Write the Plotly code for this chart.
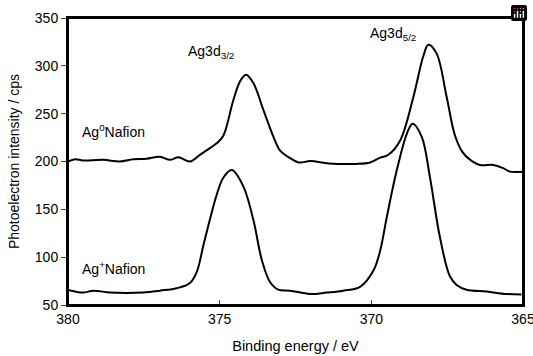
import plotly.graph_objects as go

# Ag0Nafion spectrum (binding energy eV, intensity cps)
ag0_energy = [380.0, 379.77, 379.5, 378.84, 378.29, 377.85, 377.41, 376.97, 376.64, 376.36,
              375.98, 375.65, 375.32, 375.1, 374.88, 374.55, 374.33, 374.13, 373.89, 373.56,
              373.23, 373.0, 372.7, 372.4, 372.0, 371.4, 370.5, 370.04, 369.71, 369.44,
              369.05, 368.61, 368.29, 368.12, 367.85, 367.52, 367.25, 367.0, 366.75,
              366.42, 365.98, 365.65, 365.43, 365.0]
ag0_counts = [200, 202.4, 201, 201.7, 200, 202.4, 203, 205, 201.7, 204.5,
              200, 207, 214, 219, 227, 264, 283.6, 290.6, 282, 254,
              226, 211, 204, 199, 200.5, 198, 197.5, 199, 204, 207,
              222, 268, 309.7, 322, 313, 268, 228, 210, 202,
              196.4, 196.4, 193, 189.4, 189.4]

# Ag+Nafion spectrum
agp_energy = [380.0, 379.5, 379.17, 378.62, 378.07, 377.52, 376.97, 376.42, 375.98, 375.75,
              375.54, 375.3, 375.1, 374.88, 374.6, 374.22, 373.89, 373.61, 373.34, 373.07, 372.68,
              372.02, 371.47, 370.92, 370.37, 369.93, 369.7, 369.49, 369.16, 368.83, 368.64, 368.34,
              368.07, 367.74, 367.41, 367.19, 366.86, 366.2, 365.54, 365.05]
agp_counts = [65.7, 63, 65, 63, 62.5, 63, 65, 67.5, 73, 85,
              112, 142, 165, 183, 191, 174, 139, 97, 74, 66, 65,
              61.5, 63, 65, 69, 86, 108, 142, 191, 229, 239.5, 226,
              184, 121, 80, 71, 66, 64, 61.5, 61]

x_ticks = [380, 375, 370, 365]
y_ticks = [50, 100, 150, 200, 250, 300, 350]

FONT = "Liberation Sans, Arial, sans-serif"

fig = go.Figure()
for xs, ys, name in [(ag0_energy, ag0_counts, "Ag0Nafion"), (agp_energy, agp_counts, "Ag+Nafion")]:
    fig.add_trace(go.Scatter(x=xs, y=ys, mode="lines", name=name,
                             line=dict(color="black", width=2, shape="spline", smoothing=1.0),
                             showlegend=False))

annotations = [
    dict(x=376.1, y=314, text="Ag3d<sub>3/2</sub>", xanchor="left", yanchor="middle"),
    dict(x=370.1, y=333, text="Ag3d<sub>5/2</sub>", xanchor="left", yanchor="middle"),
    dict(x=379.6, y=232, text="Ag<sup>0</sup>Nafion", xanchor="left", yanchor="middle"),
    dict(x=379.6, y=89, text="Ag<sup>+</sup>Nafion", xanchor="left", yanchor="middle"),
]
for a in annotations:
    a.update(xref="x", yref="y", showarrow=False, font=dict(family=FONT, size=14, color="black"))

fig.update_layout(
    width=533, height=356,
    margin=dict(l=68, r=10, t=18, b=51, autoexpand=False),
    paper_bgcolor="white", plot_bgcolor="white",
    font=dict(family=FONT, size=14, color="black"),
    annotations=annotations,
    # frame around the plotting area
    shapes=[dict(type="rect", xref="paper", yref="paper", x0=0, x1=1, y0=0, y1=1,
                 line=dict(color="black", width=2), layer="above")],
    modebar=dict(bgcolor="rgba(0,0,0,0)", color="rgba(0,0,0,0)", activecolor="rgba(0,0,0,0)"),
    xaxis=dict(range=[380, 365], tickvals=x_ticks, ticks="inside", ticklen=5, tickwidth=1,
               showline=True, linewidth=2, linecolor="black", mirror=True, showgrid=False,
               zeroline=False, automargin=False, ticklabeloverflow="allow",
               title=dict(text="Binding energy / eV", standoff=15, font=dict(size=14.5)),
               tickfont=dict(size=14)),
    yaxis=dict(range=[50, 350], tickvals=y_ticks, ticks="outside", ticklen=5, tickwidth=1,
               showline=True, linewidth=2, linecolor="black", mirror=True, showgrid=False,
               zeroline=False, automargin=False, ticklabeloverflow="allow",
               title=dict(text="Photoelectron intensity / cps", standoff=12, font=dict(size=14)),
               tickfont=dict(size=14)),
)

# Remove the default 8px page margin so the 533x356 figure fills the window exactly.
fig.write_html("out.html", post_script="document.body.style.margin='0';document.body.style.overflow='hidden';")
